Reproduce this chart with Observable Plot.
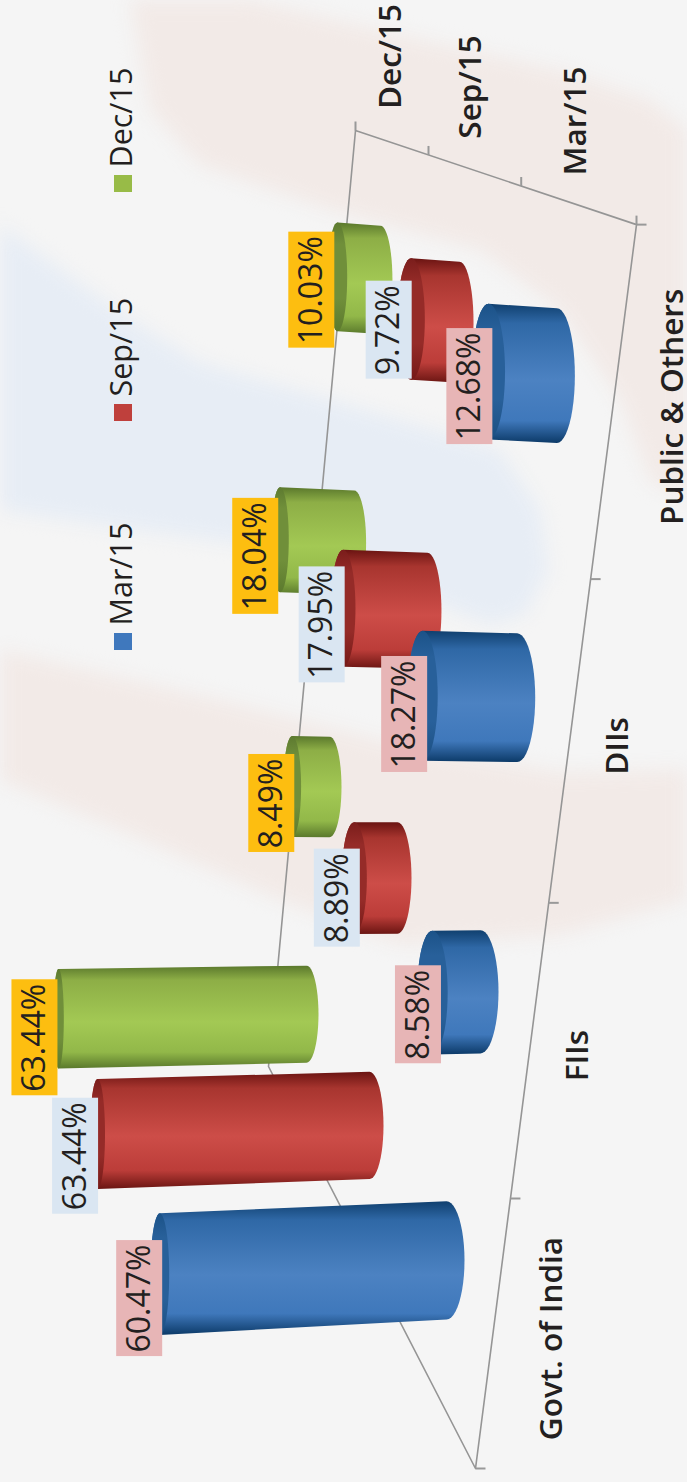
<!DOCTYPE html>
<html>
<head>
<meta charset="utf-8">
<script src="https://cdn.jsdelivr.net/npm/d3@7"></script>
<script src="https://cdn.jsdelivr.net/npm/@observablehq/plot@0.6"></script>
<style>
html,body{margin:0;padding:0;width:687px;height:1482px;overflow:hidden;background:#f5f5f5}
#wash{position:absolute;left:0;top:0;width:687px;height:1482px;filter:blur(9px)}
#wash div{position:absolute;left:0;top:0;width:687px;height:1482px}
.pink{background:#f2eae7}
.blue{background:#e7edf5}
#chart{position:absolute;left:0;top:0}
#chart svg{background:transparent;display:block}
</style>
</head>
<body>
<div id="wash">
  <div class="pink" style="clip-path:path('M130 0 L250 0 L400 35 L560 70 L650 100 L687 130 L687 500 L650 480 L620 400 L560 310 L480 250 L330 210 L200 165 L150 110 Z')"></div>
  <div class="blue" style="clip-path:path('M0 225 L125 316 L200 363 L350 405 L500 450 L540 510 L548 570 L525 615 L490 625 L400 590 L250 545 L100 525 L0 510 Z')"></div>
  <div class="pink" style="clip-path:path('M0 650 L220 700 L400 745 L560 772 L687 770 L687 900 L560 935 L400 945 L280 900 L120 830 L0 780 Z')"></div>
</div>
<div id="chart"></div>
<script>
// ---- data ----
const categories = ["Govt. of India", "FIIs", "DIIs", "Public & Others"];
const seriesNames = ["Mar/15", "Sep/15", "Dec/15"];
const legendNames = ["Mar/15", "Sep/15", "Dec/15"];
const mar15 = [60.47, 8.58, 18.27, 12.68];
const sep15 = [63.44, 8.89, 17.95, 9.72];
const dec15 = [63.44, 8.49, 18.04, 10.03];

// ---- perspective layout of the 3-D chart ----
const geo = (r, i) => (Math.pow(r, i) - 1) / (r - 1);
const layouts = [
  {name: "Mar/15", values: mar15, key: "blue", x0: 464, dx: 34, rx: 1.08, y0: 1259, dy: 268, ry: 1.095, h0: 118, dh: 5,   k: 4.5,  grow: .02,  cap: 42, capW: 1,   endW: 18, boxF: 1.2, boxDy: [2, 2, 2, 4],   box: "#e7b5b6"},
  {name: "Sep/15", values: sep15, key: "red",  x0: 383, dx: 28, rx: 1.07, y0: 1124.5, dy: 247, ry: 1.08, h0: 107, dh: 4.2, k: 4.12, grow: .03,  cap: 32, capW: .92, endW: 14, boxF: 1.0, boxDy: [0, 0, 0, 0],   box: "#dae6f2"},
  {name: "Dec/15", values: dec15, key: "green",x0: 318, dx: 23, rx: 1.07, y0: 1013.5, dy: 227, ry: 1.075,h0: 97,  dh: 3.4, k: 3.77, grow: .005, cap: 26, capW: .72, endW: 12, boxF: .5,  boxDy: [-3, -3, 0, 2], box: "#fdbe10"}
];
const VP = {x: 8740, y: 862};
const boxShift = [22, 20, 17, 12];
const boxNudge = [1, 6, 2, 1];

const ang = d3.range(0, 25).map(i => i / 24 * Math.PI);

function cylinder(l, i) {
  const v = l.values[i];
  const xR = l.x0 + l.dx * geo(l.rx, i);
  const yR = l.y0 - l.dy * geo(l.ry, i);
  const t = geo(1.095, i);
  const h = l.h0 + l.dh * t;
  const xL = xR - l.cap - l.k * (1 + l.grow * t) * v;
  const slope = (VP.y - yR) / (VP.x - xR);
  const yAt = x => yR + slope * (x - xR);
  const hAt = x => h * (1 + 0.0001 * (xR - x));
  const hwL = (7 + 0.022 * (xL - 40)) * l.capW;
  const hwR = l.endW;
  const cL = xL + hwL, cR = xR - hwR;
  const id = l.key + i;
  const body = [];
  for (const a of ang) body.push({id, x: cL - hwL * Math.sin(a), y: yAt(cL) - hAt(cL) / 2 * Math.cos(a)});
  for (const a of ang) body.push({id, x: cR + hwR * Math.sin(a), y: yAt(cR) + hAt(cR) / 2 * Math.cos(a)});
  const cap = [];
  for (const a of ang) cap.push({id, x: cL - hwL * Math.sin(a), y: yAt(cL) - hAt(cL) / 2 * Math.cos(a)});
  for (const a of ang) cap.push({id, x: cL + hwL * Math.sin(a), y: yAt(cL) + hAt(cL) / 2 * Math.cos(a)});
  const label = v.toFixed(2) + "%";
  const boxH = 18 * label.length + 8;
  const bx2 = xL + hwL * l.boxF + boxNudge[i] + (l.key === "green" ? 1 : 0);
  const by = yAt(xL) + boxShift[i] + l.boxDy[i];
  return {body, cap, label, box: {x1: bx2 - 46, x2: bx2, y1: by - boxH / 2, y2: by + boxH / 2, cx: bx2 - 23, cy: by, fill: l.box}};
}

// ---- chart frame ----
const frameY = i => 1468 - 270 * geo(1.095, i);
const edgeBack = {x: 355, y: 130};
const edgeFront = {x: 636, y: frameY(4)};
const edgeNear = {x: 475, y: frameY(0)};
const edgeSide = {x: 268, y: 1066};
const frame = [edgeBack, edgeFront, edgeNear, edgeSide, edgeBack];
const edgeX = y => edgeFront.x + (edgeNear.x - edgeFront.x) * (y - edgeFront.y) / (edgeNear.y - edgeFront.y);
const catTicks = d3.range(5).map(i => ({x1: edgeX(frameY(i)), x2: edgeX(frameY(i)) + 10, y: frameY(i)}));
const depthX = j => edgeBack.x + 73 * geo(1.27, j);
const depthY = x => edgeBack.y + (edgeFront.y - edgeBack.y) * (x - edgeBack.x) / (edgeFront.x - edgeBack.x);
const depthTicks = d3.range(4).map(j => {
  const x = j === 3 ? edgeFront.x : depthX(j);
  return {x, y1: depthY(x) - 9, y2: depthY(x)};
});

// ---- labels ----
const catLabelDx = [60, 49, 49, 60];
const catLabels = categories.map((c, i) => {
  const y = (frameY(i) + frameY(i + 1)) / 2 + 5;
  return {text: c, x: edgeX(y) + catLabelDx[i], y};
});
const seriesLabelOffset = [{dx: 55, dy: -65}, {dx: 42, dy: -68}, {dx: 35, dy: -74}];
const seriesLabels = seriesNames.map((s, k) => {
  const t = depthTicks[2 - k];
  return {text: s, x: t.x + seriesLabelOffset[k].dx, y: t.y2 + seriesLabelOffset[k].dy};
});
const legendY = [650, 421, 192];
const legendRows = legendNames.map((s, k) => ({text: s, y: legendY[k], fill: layouts[k].key}));
const legendFill = {blue: "#3f78bd", red: "#bf403c", green: "#98bb47"};

// ---- gradients ----
const grads = {
  blue:  ["#10406f", "#2f68a6", "#4c82c2", "#3f78bb", "#0c3a68"],
  red:   ["#6b1412", "#a8352f", "#cd4d48", "#bc3d39", "#6a1512"],
  green: ["#5a782c", "#8dae46", "#a3c954", "#92b849", "#5a792c"]
};
const capGrads = {
  blue:  ["#1b5288", "#28609a", "#28609a", "#1c4f82"],
  red:   ["#7a1d1b", "#952b28", "#952b28", "#751917"],
  green: ["#5d7a30", "#708f3a", "#708f3a", "#5c7a2e"]
};
const offs = [0, .14, .55, .84, 1];
const capOffs = [0, .2, .7, 1];
function defs() {
  const d = d3.create("svg:defs");
  for (const k in grads) {
    const g = d.append("linearGradient").attr("id", "g-" + k).attr("x1", 0).attr("y1", 0).attr("x2", 0).attr("y2", 1);
    grads[k].forEach((c, i) => g.append("stop").attr("offset", offs[i]).attr("stop-color", c));
    const c2 = d.append("linearGradient").attr("id", "c-" + k).attr("x1", 0).attr("y1", 0).attr("x2", 0).attr("y2", 1);
    capGrads[k].forEach((c, i) => c2.append("stop").attr("offset", capOffs[i]).attr("stop-color", c));
  }
  return d.node();
}

// ---- marks ----
const cylMarks = [];
const boxes = [];
for (const l of [layouts[2], layouts[1], layouts[0]]) {
  const cyls = d3.range(categories.length).map(i => cylinder(l, i));
  cylMarks.push(Plot.line(cyls.flatMap(c => c.body), {x: "x", y: "y", z: "id", fill: `url(#g-${l.key})`, stroke: "none"}));
  cylMarks.push(Plot.line(cyls.flatMap(c => c.cap), {x: "x", y: "y", z: "id", fill: `url(#c-${l.key})`, stroke: "none"}));
  boxes.push(...cyls.map(c => ({...c.box, label: c.label})));
}

const font = "'Open Sans', sans-serif";
const plot = Plot.plot({
  width: 687, height: 1482,
  margin: 0,
  x: {domain: [0, 687], range: [0, 687], axis: null},
  y: {domain: [0, 1482], range: [0, 1482], axis: null},
  style: {background: "transparent", fontFamily: font},
  marks: [
    defs,
    Plot.line(frame, {x: "x", y: "y", stroke: "#959595", strokeWidth: 1.6}),
    Plot.link(catTicks, {x1: "x1", x2: "x2", y1: "y", y2: "y", stroke: "#999", strokeWidth: 2}),
    Plot.link(depthTicks, {x1: "x", x2: "x", y1: "y1", y2: "y2", stroke: "#999", strokeWidth: 2}),
    ...cylMarks,
    Plot.rect(boxes, {x1: "x1", x2: "x2", y1: "y1", y2: "y2", fill: "fill"}),
    Plot.text(boxes, {x: "cx", y: "cy", text: "label", rotate: -90, fontSize: 32, fill: "#231f20"}),
    Plot.text(catLabels, {x: "x", y: "y", text: "text", rotate: -90, fontSize: 31.5, fontWeight: 600, fill: "#231f20"}),
    Plot.text(seriesLabels, {x: "x", y: "y", text: "text", rotate: -90, fontSize: 31.5, fontWeight: 600, fill: "#231f20"}),
    Plot.rect(legendRows, {x1: () => 114, x2: () => 132, y1: d => d.y - 17, y2: "y", fill: d => legendFill[d.fill]}),
    Plot.text(legendRows, {x: () => 122, y: d => d.y - 25, text: "text", rotate: -90, textAnchor: "start", fontSize: 30.5, fill: "#231f20"})
  ]
});
document.getElementById("chart").appendChild(plot);
</script>
</body>
</html>
